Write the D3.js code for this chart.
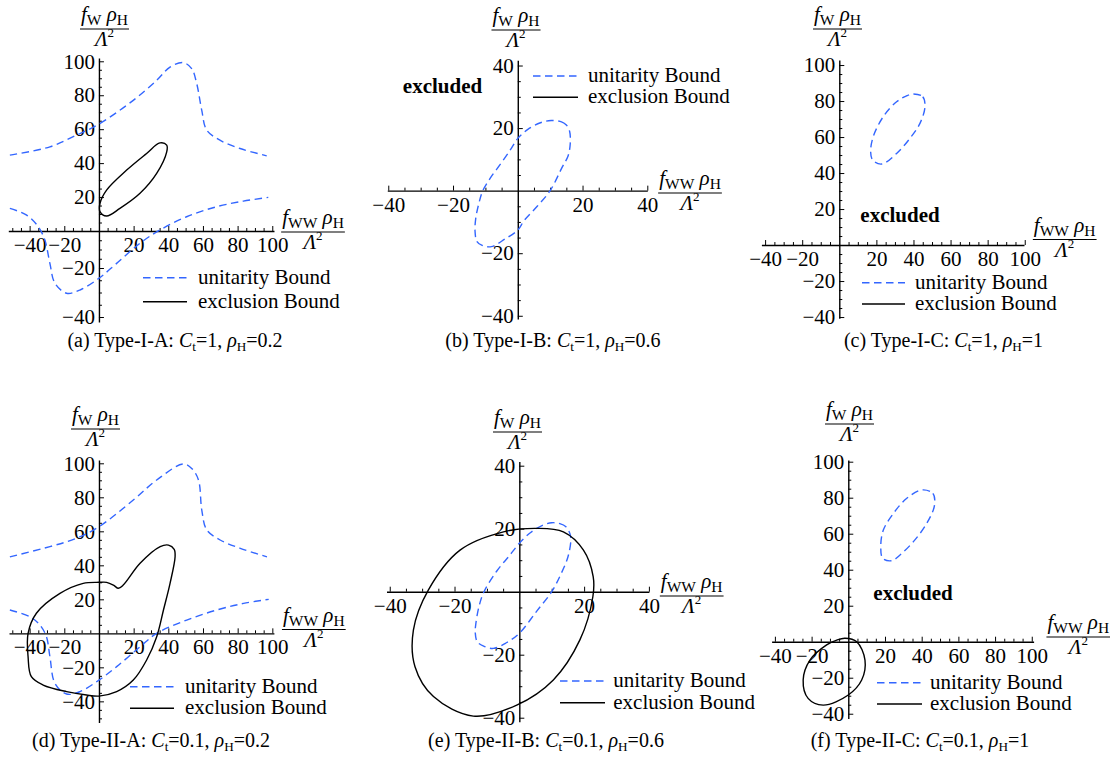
<!DOCTYPE html>
<html><head><meta charset="utf-8">
<script src="https://cdn.jsdelivr.net/npm/d3@7"></script>
<style>
body{margin:0;background:#fff}
text{font-family:"Liberation Serif","Times New Roman",serif;white-space:pre}
</style></head>
<body><svg id="c" width="1110" height="766"></svg>
<script>
// ---------- data ----------
const ticksWide = [-40,-20,20,40,60,80,100];
const ticksNarrow = [-40,-20,20,40];
const panelLetters = ["a","b","c","d","e","f"];
const panelTypes = ["Type-I-A","Type-I-B","Type-I-C","Type-II-A","Type-II-B","Type-II-C"];
const ctValues = ["1","1","1","0.1","0.1","0.1"];
const rhoValues = ["0.2","0.6","1","0.2","0.6","1"];
const legendLabels = ["unitarity Bound","exclusion Bound"];
const excludedLabel = "excluded";

// (a) Type-I-A
const unitUpperA = [[-51.4,44.7],[-28.3,49.6],[-12.9,56.5],[0,63],[19.8,77],[33.3,88.8],[41,96.6],[48.7,99.2],[53.5,95.7],[56.4,86.9],[59.3,71.2],[62.2,59.4],[69.8,53.5],[81.4,48.6],[96.8,44.3]];
const unitLowerA = [[-51.4,13.3],[-41.7,9.4],[-35,2.5],[-31.2,-4.9],[-28.3,-17.5],[-25.4,-26.2],[-18.7,-30.3],[-11,-29],[0,-24.2],[10.2,-17.5],[23.7,-6.6],[35.2,0.6],[50.6,8.4],[67.9,14.3],[83.3,17.6],[97.7,19.8]];
const exclA = [[4.4,8.8],[0.6,11.4],[0.6,16.3],[4.4,24.1],[16,35.9],[27.5,45.7],[35.2,51.9],[39.1,50.6],[39.1,46.6],[33.3,33.9],[23.7,22.2],[12.1,13.3]];
// (b) Type-I-B
const unitB = [[10.3,22.4],[13.5,22],[15,21],[16,19],[16.2,15],[15.5,11],[13.8,7.7],[10,0],[6,-5],[2,-9.5],[0,-12.6],[-4,-15.5],[-8.2,-17.9],[-11,-17.5],[-12.6,-16.3],[-13.2,-13],[-13,-9],[-12,-4],[-10.8,0],[-8.5,4],[-5,9],[-2,13.5],[0,16.7],[3,19.5],[7,21.7]];
// (c) Type-I-C
const unitC = [[39.9,83.9],[45,82.4],[46.2,76.8],[43.5,67.6],[38.1,59.3],[30.9,50.9],[22.9,45],[18,47.2],[16.9,51.8],[18.3,60.2],[23.7,71.3],[30.9,79.6],[36.3,82.9]];
// (d) Type-II-A
const unitUpperD = [[-51.4,45],[-28.3,51],[-12.9,55.9],[0,62.7],[19.8,78.4],[33.3,90.2],[48.7,99.6],[53.5,97],[57.4,90.2],[59.3,72.5],[62.2,60.8],[69.9,54.9],[81.5,50],[96.9,45]];
const unitLowerD = [[-51.4,13.7],[-39.9,9.8],[-34.1,4.9],[-30.3,-2],[-28.3,-13.7],[-25.4,-29.4],[-18.7,-35.7],[-11,-34.3],[0,-27.5],[10.2,-19.6],[23.7,-7.9],[33.3,0],[50.6,7.8],[67.9,13.7],[83.4,17.6],[97.9,20]];
const exclD = [[0,30],[-9.1,29.4],[-22.5,23.5],[-36.1,11.8],[-40.9,0],[-40.9,-13.7],[-39,-25.5],[-32.2,-30.4],[-18.7,-34.3],[-7.2,-36.3],[0,-36.9],[10.2,-34.3],[19.8,-27.5],[27.5,-15.7],[33.3,-2],[37.2,13.7],[41,29.4],[43.9,45],[43.4,49.4],[40.1,51.9],[35.3,51],[23.7,41.2],[14,28.4],[11.2,26.5],[8.3,28.4],[4.4,30]];
// (e) Type-II-B
const unitE = [[10,21.9],[12.5,21.6],[14.4,20.6],[15.6,18.5],[15.9,16.4],[15,11],[12.8,5.5],[10,0],[5.5,-6],[0,-13.2],[-4,-16.2],[-8,-18],[-11,-17.3],[-13,-15.9],[-13.6,-13],[-13.4,-10],[-12.4,-4.5],[-10.9,0],[-7,6.5],[-3,11.5],[0,15.4],[3.5,18.8],[7,21]];
const exclE = [[5.4,20.1],[-4.9,19],[-18.3,13.2],[-28.1,0.5],[-32.7,-12.2],[-32.2,-23.8],[-26.5,-33.3],[-14.2,-39.5],[-0.8,-36],[10.5,-28],[18.7,-15.3],[22.7,-1.6],[22.8,4.8],[19.8,13.2],[13.6,19]];
// (f) Type-II-C
const unitF = [[40.1,84.3],[46.1,82.4],[47,75.9],[42.8,65.8],[35.5,55.6],[28.2,48.2],[23.7,45],[18.8,46.3],[17.7,52.8],[19.1,62],[24.6,71.3],[31.9,79.7]];
const exclF = [[-1.8,1.9],[4.6,0],[9.1,-10.2],[7.3,-21.3],[0,-29.6],[-13.7,-35.2],[-21.9,-31.5],[-24.6,-21.3],[-20.9,-10.2],[-11.8,-1.8],[-6.3,0.9]];

// ---------- layout ----------
const BLUE = "#3366ff";
const FONT = 20, TICKFONT = 21, LABFONT = 21;
const panels = [
 {xDom:[-52.3,101], xRng:[8.3,274], yDom:[-42,-40,-20,0,102], yRng:[322,317,268,231,57.9], xT:ticksWide, yT:ticksWide,
  unit:[unitUpperA,unitLowerA], uClosed:false, excl:exclA,
  leg:{x1:143,x2:187,y1:277.7,y2:301.7,tx:198}, ylab:[104.5,29], xlab:[313,232], cap:[175,347], exc:null},
 {xDom:[-40.3,40], xRng:[387.3,647.3], yDom:[-41,41.7], yRng:[318.9,60.2], xT:ticksNarrow, yT:ticksNarrow,
  unit:[unitB], uClosed:true, excl:null,
  leg:{x1:533,x2:578,y1:76,y2:97.3,tx:588}, ylab:[516,30], xlab:[690,193], cap:[553,347], exc:[442.5,93]},
 {xDom:[-42,99.6], xRng:[761.4,1024], yDom:[-40.7,102.8], yRng:[318.3,60], xT:ticksWide, yT:ticksWide,
  unit:[unitC], uClosed:true, excl:null,
  leg:{x1:862,x2:905,y1:282.7,y2:304,tx:915}, ylab:[837.5,29], xlab:[1064.7,239.5], cap:[943.5,347], exc:[900,222]},
 {xDom:[-51.9,100.9], xRng:[9,273.9], yDom:[-52.5,102], yRng:[722.6,459.9], xT:ticksWide, yT:ticksWide,
  unit:[unitUpperD,unitLowerD], uClosed:false, excl:exclD,
  leg:{x1:130,x2:174,y1:686.7,y2:708.3,tx:185}, ylab:[95.5,429], xlab:[313.8,629.5], cap:[151,747], exc:null},
 {xDom:[-41,40], xRng:[386.5,648.9], yDom:[-41.3,41.3], yRng:[721.8,461.6], xT:ticksNarrow, yT:ticksNarrow,
  unit:[unitE], uClosed:true, excl:exclE,
  leg:{x1:560,x2:605,y1:681,y2:702.7,tx:613.3}, ylab:[517.5,432], xlab:[691.7,596], cap:[546,747], exc:null},
 {xDom:[-41.8,101], xRng:[771.6,1033.6], yDom:[-42.6,101], yRng:[718.4,459.9], xT:ticksWide, yT:ticksWide,
  unit:[unitF], uClosed:true, excl:exclF,
  leg:{x1:877,x2:922,y1:682.7,y2:704,tx:930}, ylab:[849.5,424], xlab:[1078.3,637], cap:[920,747], exc:[913,600]}
];

const svg = d3.select("#c");
svg.append("rect").attr("width",1110).attr("height",766).attr("fill","#fff");

function rich(g, x, y, parts, size, anchor, subScale){
  const ss = subScale || 0.66;
  const t = g.append("text").attr("x",x).attr("y",y).attr("font-size",size)
    .attr("text-anchor",anchor||"start").attr("fill","#000");
  let shift = 0;
  parts.forEach(p=>{
    const ts = t.append("tspan").text(p.t);
    const target = p.sub ? size*0.2 : (p.sup ? -size*0.42 : 0);
    if (target-shift !== 0) ts.attr("dy", target-shift);
    shift = target;
    if (p.sub||p.sup) ts.attr("font-size", size*ss);
    if (p.it) ts.attr("font-style","italic");
    if (p.b) ts.attr("font-weight","bold");
  });
  return t;
}
function fraction(g, cx, ly, numParts){
  const n = rich(g, cx, ly-8, numParts, LABFONT, "middle", 0.74);
  const w = n.node().getComputedTextLength();
  g.append("line").attr("x1",cx-w/2-1).attr("x2",cx+w/2+1).attr("y1",ly).attr("y2",ly)
    .attr("stroke","#000").attr("stroke-width",1.1);
  rich(g, cx, ly+17, [{t:"Λ",it:true},{t:"2",sup:true}], LABFONT, "middle", 0.62);
}

panels.forEach((P,i)=>{
  const g = svg.append("g");
  const x = d3.scaleLinear().domain(P.xDom).range(P.xRng);
  const y = d3.scaleLinear().domain(P.yDom).range(P.yRng);
  const xe = d3.extent(P.xDom), ye = d3.extent(P.yDom);
  const minorX = d3.range(Math.ceil(xe[0]/5)*5, xe[1]+0.01, 5).filter(v=>v!==0 && !P.xT.includes(v));
  const minorY = d3.range(Math.ceil(ye[0]/5)*5, ye[1]+0.01, 5).filter(v=>v!==0 && !P.yT.includes(v));

  // minor ticks
  g.append("g").attr("transform",`translate(0,${y(0)})`)
    .call(d3.axisBottom(x).tickValues(minorX).tickSizeInner(-3).tickSizeOuter(0).tickFormat(""))
    .call(s=>s.select(".domain").remove());
  g.append("g").attr("transform",`translate(${x(0)},0)`)
    .call(d3.axisLeft(y).tickValues(minorY).tickSizeInner(-3).tickSizeOuter(0).tickFormat(""))
    .call(s=>s.select(".domain").remove());
  // major axes
  const ax = g.append("g").attr("transform",`translate(0,${y(0)})`)
    .call(d3.axisBottom(x).tickValues(P.xT).tickSizeInner(-5).tickSizeOuter(0).tickPadding(6).tickFormat(d3.format("d")));
  const ay = g.append("g").attr("transform",`translate(${x(0)},0)`)
    .call(d3.axisLeft(y).tickValues(P.yT).tickSizeInner(-5).tickSizeOuter(0).tickPadding(4).tickFormat(d3.format("d")));
  [ax,ay].forEach(a=>{
    a.attr("font-size",TICKFONT).attr("font-family",null);
    a.select(".domain").attr("stroke-width",1.4);
  });
  g.selectAll(".tick line").attr("stroke-width",1);

  // curves
  const lineOpen = d3.line().x(d=>x(d[0])).y(d=>y(d[1])).curve(d3.curveCatmullRom.alpha(0.5));
  const lineClosed = d3.line().x(d=>x(d[0])).y(d=>y(d[1])).curve(d3.curveCatmullRomClosed.alpha(0.5));
  P.unit.forEach(arr=>{
    g.append("path").attr("d",(P.uClosed?lineClosed:lineOpen)(arr))
      .attr("fill","none").attr("stroke",BLUE).attr("stroke-width",1.4).attr("stroke-dasharray","7.5,4.5");
  });
  if (P.excl) g.append("path").attr("d",lineClosed(P.excl))
      .attr("fill","none").attr("stroke","#000").attr("stroke-width",1.4);

  // legend
  const L = P.leg;
  g.append("line").attr("x1",L.x1).attr("x2",L.x2).attr("y1",L.y1).attr("y2",L.y1)
    .attr("stroke",BLUE).attr("stroke-width",1.4).attr("stroke-dasharray","7.5,4.5");
  g.append("line").attr("x1",L.x1).attr("x2",L.x2).attr("y1",L.y2).attr("y2",L.y2)
    .attr("stroke","#000").attr("stroke-width",1.6);
  g.append("text").attr("x",L.tx).attr("y",L.y1+6).attr("font-size",21).text(legendLabels[0]);
  g.append("text").attr("x",L.tx).attr("y",L.y2+6).attr("font-size",21).text(legendLabels[1]);

  // axis labels
  fraction(g, P.ylab[0], P.ylab[1], [{t:"f",it:true},{t:"W",sub:true},{t:" "},{t:"ρ",it:true},{t:"H",sub:true}]);
  fraction(g, P.xlab[0], P.xlab[1], [{t:"f",it:true},{t:"WW",sub:true},{t:" "},{t:"ρ",it:true},{t:"H",sub:true}]);

  // excluded
  if (P.exc) g.append("text").attr("x",P.exc[0]).attr("y",P.exc[1]).attr("text-anchor","middle")
      .attr("font-size",21).attr("font-weight","bold").text(excludedLabel);

  // caption
  rich(g, P.cap[0], P.cap[1], [
    {t:`(${panelLetters[i]}) ${panelTypes[i]}: `},{t:"C",it:true},{t:"t",sub:true},
    {t:`=${ctValues[i]}, `},{t:"ρ",it:true},{t:"H",sub:true},{t:`=${rhoValues[i]}`}], FONT, "middle");
});
</script></body></html>
